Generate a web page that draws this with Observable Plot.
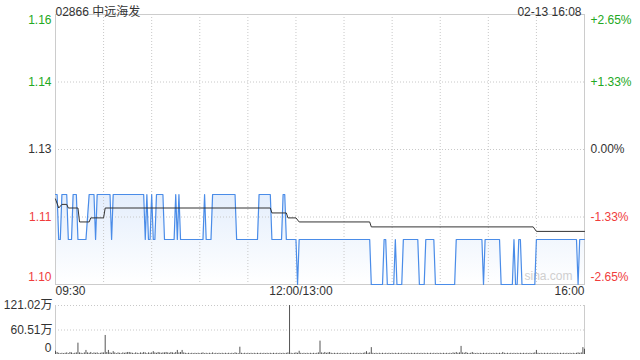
<!DOCTYPE html>
<html><head><meta charset="utf-8">
<script src="https://cdn.jsdelivr.net/npm/d3@7"></script>
<script src="https://cdn.jsdelivr.net/npm/@observablehq/plot@0.6"></script>
<style>
body{margin:0;background:#fff;width:640px;height:360px;overflow:hidden}
#c{position:relative;width:640px;height:360px}
#c svg{display:block;position:absolute;left:0}
</style></head><body><div id="c"></div>
<script>
const title = "02866 中远海发";
const stamp = "02-13 16:08";
const watermark = "sina.com";
const prevClose = 1.13;
const priceTicks = [1.10, 1.115, 1.13, 1.145, 1.16];
const priceTickLabels = ["1.10", "1.11", "1.13", "1.14", "1.16"];
const pctTickLabels = ["-2.65%", "-1.33%", "0.00%", "+1.33%", "+2.65%"];
const timeTicks = [0, 150, 330];
const timeTickLabels = ["09:30", "12:00/13:00", "16:00"];
const gridMinutes = [30, 60, 90, 120, 150, 180, 210, 240, 270, 300];

// price polyline vertices (minute since 09:30, price)
const priceMinute = [0,1,2,3,4,7,8,10,11,13,14,19,21,24,25,26,34,35,36,55,56,57,58,59,60,61,62,63,67,68,74,75,76,77,78,92,93,94,97,98,112,113,126,127,134,135,141,142,143,144,150,151,152,196,197,204,205,206,207,211,212,213,216,217,226,227,230,231,236,237,249,250,266,267,268,277,278,285,286,287,288,289,290,291,299,300,325,326,327,330];
const priceValue = [1.12,1.12,1.11,1.11,1.12,1.12,1.11,1.11,1.12,1.12,1.11,1.11,1.12,1.12,1.11,1.12,1.12,1.11,1.12,1.12,1.11,1.12,1.11,1.11,1.12,1.11,1.11,1.12,1.12,1.11,1.11,1.12,1.11,1.12,1.11,1.11,1.12,1.11,1.11,1.12,1.12,1.11,1.11,1.12,1.12,1.11,1.11,1.12,1.12,1.11,1.11,1.10,1.11,1.11,1.10,1.10,1.11,1.11,1.10,1.10,1.11,1.10,1.10,1.11,1.11,1.10,1.10,1.11,1.11,1.10,1.10,1.11,1.11,1.10,1.11,1.11,1.10,1.10,1.11,1.10,1.10,1.11,1.11,1.10,1.10,1.11,1.11,1.10,1.11,1.11];

// average price polyline vertices
const avgMinute = [0,2,4,7,8,14,15,21,22,30,31,134,135,144,145,150,152,196,197,298,300,330];
const avgValue = [1.119,1.117,1.1178,1.1178,1.117,1.117,1.1139,1.1139,1.1148,1.1148,1.117,1.117,1.1159,1.1159,1.1148,1.1148,1.1139,1.1139,1.1128,1.1128,1.1118,1.1118];

// volume per minute (万股), minute 0..330
const volume = [
8,5,3,2,3,2,3,4,2,5, 4,2,3,4,28,4,3,2,4,10, 4,3,5,2,4,3,4,2,3,4,
4,47,5,10,4,3,7,4,2,4, 3,2,4,3,4,5,5,4,3,2, 4,3,2,4,3,5,4,2,4,3,
4,7,4,3,5,4,3,4,4,5, 4,3,5,4,3,5,10,4,5,10, 4,3,2,3,2,3,2,3,2,3,
2,3,4,2,3,2,3,2,4,2, 3,2,3,2,3,2,3,2,3,2, 3,2,4,3,2,18,3,2,3,2,
3,2,3,2,3,2,3,2,3,2, 3,2,3,2,3,2,3,2,3,2, 3,2,3,2,3,4,121.02,3,2,3,
4,3,8,3,2,3,2,3,2,3, 2,3,2,3,4,33,4,3,5,3, 4,5,3,2,3,2,3,2,3,2,
3,2,3,2,3,2,3,2,3,2, 3,2,3,4,7,3,4,17,3,2, 3,2,3,2,3,2,3,2,3,2,
3,2,3,2,3,2,3,2,3,2, 3,2,3,2,3,2,3,2,3,2, 3,2,3,2,3,2,3,2,3,2,
3,2,3,2,3,2,3,2,4,3, 5,3,4,20,4,3,5,3,2,3, 5,3,2,3,2,3,2,3,2,3,
2,3,2,3,2,3,2,3,2,5, 3,2,3,2,3,2,3,2,3,2, 3,2,3,2,3,2,3,2,3,4,
10,3,2,3,2,3,2,3,2,3, 2,3,2,3,2,3,2,3,2,3, 2,3,2,3,2,3,4,3,4,17,
13];
const volTicks = [0, 60.51, 121.02];
const volTickLabels = ["0", "60.51万", "121.02万"];

const UP = "#22a822", DOWN = "#f03c3c", FLAT = "#333333";
const font = '"Liberation Sans", Arial, "Noto Sans CJK SC", sans-serif';
const colorOf = v => Math.abs(v - prevClose) < 1e-9 ? FLAT : (v > prevClose ? UP : DOWN);

const priceData = priceMinute.map((m, i) => ({m, p: priceValue[i]}));
const avgData = avgMinute.map((m, i) => ({m, p: avgValue[i]}));
const volData = volume.map((v, m) => ({m, v}));
const ticks = priceTicks.map((v, i) => ({v, label: priceTickLabels[i], pct: pctTickLabels[i], c: colorOf(v)}));
const tTop = ticks.filter((d, i) => i === ticks.length - 1);
const tMid = ticks.filter((d, i) => i > 0 && i < ticks.length - 1);
const tBot = ticks.filter((d, i) => i === 0);
const tl = timeTicks.map((m, i) => ({m, label: timeTickLabels[i]}));

const defs = () => {
  const ns = "http://www.w3.org/2000/svg";
  const g = document.createElementNS(ns, "defs");
  g.innerHTML = '<linearGradient id="pgrad" x1="0" y1="0" x2="0" y2="1"><stop offset="0" stop-color="#e4eefc"/><stop offset="1" stop-color="#ffffff"/></linearGradient>';
  return g;
};

const common = {
  width: 640, marginLeft: 55, marginRight: 56,
  color: {type: "identity"}
};

const pricePlot = Plot.plot({
  ...common,
  style: {fontFamily: font, fontSize: "12px", color: "#333", background: "#fff"},
  height: 300, marginTop: 14, marginBottom: 16,
  x: {domain: [0, 330], axis: null},
  y: {domain: [1.10, 1.16], axis: null},
  marks: [
    defs,
    Plot.areaY(priceData, {x: "m", y1: 1.10, y2: "p", fill: "url(#pgrad)"}),
    Plot.ruleY(priceTicks.slice(1, -1), {stroke: "#c8c8c8", strokeDasharray: "1,2"}),
    Plot.ruleX(gridMinutes, {stroke: "#c8c8c8", strokeDasharray: "1,2"}),
    Plot.frame({stroke: "#cccccc"}),
    Plot.text([watermark], {frameAnchor: "bottom-right", dx: -12, dy: -5, fill: "#cfcfcf", fontSize: 12, textAnchor: "end"}),
    Plot.line(priceData, {x: "m", y: "p", stroke: "#4a8ce8", strokeWidth: 1.2}),
    Plot.line(avgData, {x: "m", y: "p", stroke: "#333", strokeWidth: 1}),
    Plot.text(tTop, {y: "v", text: "label", fill: "c", frameAnchor: "left", textAnchor: "end", dx: -4, dy: 6}),
    Plot.text(tMid, {y: "v", text: "label", fill: "c", frameAnchor: "left", textAnchor: "end", dx: -4}),
    Plot.text(tBot, {y: "v", text: "label", fill: "c", frameAnchor: "left", textAnchor: "end", dx: -4, dy: -7}),
    Plot.text(tTop, {y: "v", text: "pct", fill: "c", frameAnchor: "right", textAnchor: "start", dx: 6, dy: 6}),
    Plot.text(tMid, {y: "v", text: "pct", fill: "c", frameAnchor: "right", textAnchor: "start", dx: 6}),
    Plot.text(tBot, {y: "v", text: "pct", fill: "c", frameAnchor: "right", textAnchor: "start", dx: 6, dy: -7}),
    Plot.text(tl.slice(0, 1), {x: "m", text: "label", frameAnchor: "bottom", dy: 10, textAnchor: "start", fill: "#333"}),
    Plot.text(tl.slice(1, 2), {x: "m", text: "label", frameAnchor: "bottom", dy: 10, dx: 5, fill: "#333"}),
    Plot.text(tl.slice(2, 3), {x: "m", text: "label", frameAnchor: "bottom", dy: 10, textAnchor: "end", fill: "#333"}),
    Plot.text([title], {frameAnchor: "top-left", dy: -7, textAnchor: "start", fill: "#333"}),
    Plot.text([stamp], {frameAnchor: "top-right", dy: -7, dx: -3, textAnchor: "end", fill: "#333"})
  ]
});

const vt = volTicks.map((v, i) => ({v, label: volTickLabels[i]}));
const volPlot = Plot.plot({
  ...common,
  style: {fontFamily: font, fontSize: "12px", color: "#333", background: "transparent"},
  height: 68, marginTop: 13, marginBottom: 6,
  x: {domain: [0, 330], axis: null},
  y: {domain: [0, 121.02], axis: null},
  marks: [
    Plot.ruleY(volTicks.slice(1), {stroke: "#c8c8c8", strokeDasharray: "1,2"}),
    Plot.ruleX([0, 330], {stroke: "#cccccc"}),
    Plot.ruleX(volData, {x: "m", y1: 0, y2: "v", stroke: "#555", strokeWidth: 1}),
    Plot.text(vt.slice(1), {y: "v", text: "label", frameAnchor: "left", textAnchor: "end", dx: -3, fill: "#333"}),
    Plot.text(vt.slice(0, 1), {y: "v", text: "label", frameAnchor: "left", textAnchor: "end", dx: -4, dy: -6, fill: "#333"})
  ]
});

pricePlot.style.top = "0px";
volPlot.style.top = "292px";
document.getElementById("c").append(pricePlot, volPlot);
</script></body></html>
